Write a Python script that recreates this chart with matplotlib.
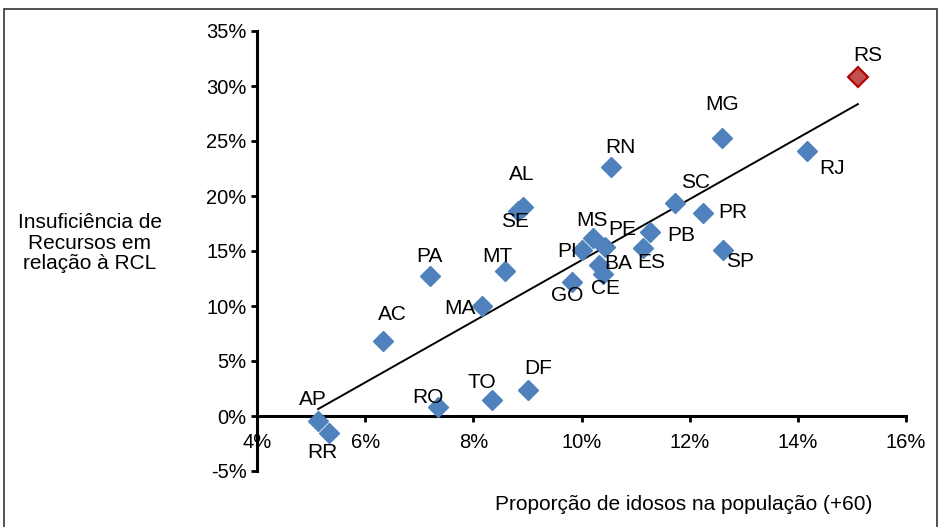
import numpy as np
import matplotlib
matplotlib.use("Agg")
import matplotlib.pyplot as plt
from matplotlib.patches import Rectangle
from matplotlib.ticker import FuncFormatter, MultipleLocator

plt.rcParams['font.family'] = ['Liberation Sans', 'DejaVu Sans']
plt.rcParams['axes.unicode_minus'] = False

# states, proportion of elderly (+60) and resource shortfall vs RCL
states = ["AP", "RR", "AC", "PA", "MA", "MT", "AL", "SE", "RO", "TO", "DF", "GO", "PI",
          "MS", "PE", "BA", "CE", "ES", "PB", "SC", "PR", "SP", "MG", "RJ", "RS", "RN"]
idosos = [5.13, 5.33, 6.33, 7.20, 8.16, 8.58, 8.92, 8.82, 7.35, 8.35, 9.01, 9.82, 10.01,
          10.21, 10.43, 10.32, 10.39, 11.13, 11.26, 11.73, 12.24, 12.61, 12.60, 14.17, 15.11, 10.54]
insuf = [-0.45, -1.55, 6.8, 12.7, 10.0, 13.2, 19.0, 18.6, 0.8, 1.5, 2.4, 12.2, 15.1,
         16.2, 15.4, 13.7, 12.9, 15.3, 16.7, 19.4, 18.5, 15.1, 25.3, 24.1, 30.8, 22.6]
destaque = "RS"

# label offsets in pixels (dx, dy)
offs = {"AP": (-5, 21), "RR": (-7, -19), "AC": (9, 27), "PA": (-1, 20), "MA": (-22, -2),
        "MT": (-7, 14), "AL": (-1, 32), "SE": (-3, -10), "RO": (-10, 10), "TO": (-10, 17),
        "DF": (10, 21), "GO": (-5, -14), "PI": (-15, -2), "MS": (-1, 17), "PE": (17, 17),
        "BA": (19, 2), "CE": (3, -14), "ES": (9, -15), "PB": (32, -3), "SC": (20, 20),
        "PR": (30, 0), "SP": (17, -12), "MG": (0, 33), "RJ": (25, -18), "RS": (10, 22),
        "RN": (10, 20)}

x = np.array(idosos) / 100
y = np.array(insuf) / 100

fig = plt.figure(figsize=(9.39, 5.27), dpi=100)
ax = fig.add_axes([257/939, 1 - 471/527, 649/939, 440/527])

fs = 15
blue = "#4F81BD"
for i, s in enumerate(states):
    if s == destaque:
        ax.plot(x[i], y[i], "D", ms=10, mfc="#C0504D", mec="#B00000", mew=1.5, zorder=4)
    else:
        ax.plot(x[i], y[i], "D", ms=10, mfc=blue, mec=blue, zorder=3)
    ax.annotate(s, (x[i], y[i]), xytext=offs[s], textcoords="offset pixels",
                ha="center", va="center", fontsize=fs, zorder=5)

# linear trendline
a, b = np.polyfit(x, y, 1)
xs = np.array([x.min(), x.max()])
ax.plot(xs, a * xs + b, color="black", lw=1.4, zorder=2)

ax.set_xlim(0.04, 0.16)
ax.set_ylim(-0.05, 0.35)
ax.xaxis.set_major_locator(MultipleLocator(0.02))
ax.yaxis.set_major_locator(MultipleLocator(0.05))
fmt = FuncFormatter(lambda v, p: "%d%%" % round(v * 100))
ax.xaxis.set_major_formatter(fmt)
ax.yaxis.set_major_formatter(fmt)

ax.spines["top"].set_visible(False)
ax.spines["right"].set_visible(False)
ax.spines["bottom"].set_position(("data", 0))
for sp in ["left", "bottom"]:
    ax.spines[sp].set_linewidth(2.2)
ax.tick_params(axis="both", direction="out", length=4, width=2, labelsize=14.5)
ax.tick_params(axis="x", pad=8)

fig.text(684/939, 1 - 505/527, "Proporção de idosos na população (+60)",
         ha="center", va="center", fontsize=fs)
fig.text(90/939, 1 - 243/527, "Insuficiência de\nRecursos em\nrelação à RCL",
         ha="center", va="center", multialignment="center", fontsize=fs, linespacing=1.12)

fig.patches.append(Rectangle((4/939, -0.02), 933/939, 1 - 9/527 + 0.02,
                             transform=fig.transFigure, fill=False,
                             edgecolor="#333333", lw=1.2))

fig.savefig("out.png", dpi=100)
